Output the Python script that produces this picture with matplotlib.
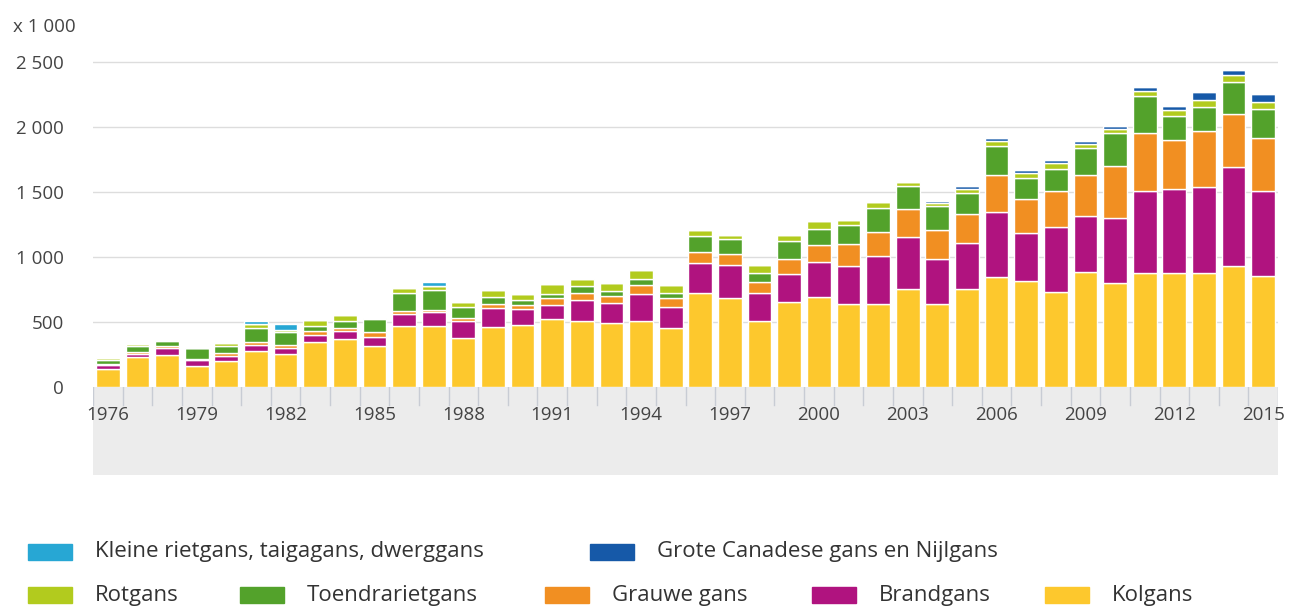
import numpy as np
import matplotlib
matplotlib.use("Agg")
import matplotlib.pyplot as plt
from matplotlib.patches import Rectangle

plt.rcParams['font.family'] = ['Open Sans', 'DejaVu Sans']

years = list(range(1976, 2016))

# numbers x 1000, stacked bottom to top
kolgans = [135, 228, 246, 161, 202, 276, 251, 343, 367, 315,
           470, 469, 374, 464, 479, 520, 510, 494, 510, 451,
           725, 682, 508, 656, 694, 638, 638, 754, 638, 754,
           844, 815, 728, 887, 802, 874, 874, 874, 930, 856]
brandgans = [35, 28, 55, 50, 38, 50, 50, 60, 63, 72,
             92, 105, 130, 140, 120, 112, 160, 150, 205, 165,
             226, 256, 212, 213, 270, 295, 370, 400, 343, 355,
             500, 372, 505, 431, 500, 633, 646, 662, 764, 651]
grauwe = [10, 12, 15, 8, 20, 20, 25, 25, 25, 35,
          25, 20, 25, 35, 30, 55, 55, 55, 70, 70,
          85, 85, 85, 115, 125, 170, 185, 215, 228, 220,
          290, 261, 277, 312, 398, 449, 379, 433, 403, 405]
toendra = [25, 50, 35, 78, 55, 110, 95, 40, 55, 100,
           135, 155, 85, 50, 40, 30, 50, 42, 42, 40,
           125, 115, 72, 140, 130, 145, 185, 180, 180, 160,
           220, 157, 166, 205, 251, 284, 185, 187, 246, 226]
rotgans = [15, 10, 10, 5, 25, 25, 20, 45, 45, 5,
           40, 25, 40, 55, 45, 75, 55, 60, 70, 60,
           45, 35, 58, 45, 55, 40, 45, 30, 30, 35,
           40, 40, 45, 35, 35, 35, 45, 55, 55, 55]
grote = [0, 0, 0, 0, 0, 0, 0, 0, 0, 0,
         0, 0, 0, 0, 0, 0, 0, 0, 0, 0,
         0, 0, 0, 0, 0, 0, 0, 0, 15, 20,
         25, 25, 25, 20, 20, 30, 35, 55, 40, 60]
kleine = [0, 0, 0, 0, 0, 30, 45, 0, 0, 0,
          0, 35, 0, 0, 0, 0, 0, 0, 0, 0,
          0, 0, 0, 0, 0, 0, 0, 0, 0, 0,
          0, 0, 0, 0, 0, 0, 0, 0, 0, 0]

series = [
    ('Kolgans', kolgans, '#fdc82d'),
    ('Brandgans', brandgans, '#b0137f'),
    ('Grauwe gans', grauwe, '#f18f22'),
    ('Toendrarietgans', toendra, '#53a22b'),
    ('Rotgans', rotgans, '#b2cb1e'),
    ('Grote Canadese gans en Nijlgans', grote, '#1659a8'),
    ('Kleine rietgans, taigagans, dwerggans', kleine, '#27a7d4'),
]

W, H = 1289, 607
fig = plt.figure(figsize=(W / 100, H / 100), dpi=100)

def fx(px):
    return px / W

def fy(py):
    return 1 - py / H

# main plot area
ax = fig.add_axes([fx(93), fy(387), fx(1278) - fx(93), fy(49) - fy(387)])
x = np.arange(len(years))
bottom = np.zeros(len(years))
for name, vals, col in series:
    v = np.array(vals, dtype=float)
    ax.bar(x, v, width=0.8, bottom=bottom, color=col, edgecolor='white', linewidth=1.0)
    bottom += v

ax.set_xlim(-0.5, len(years) - 0.5)
ax.set_ylim(0, 2600)
yt = [0, 500, 1000, 1500, 2000, 2500]
ax.set_yticks(yt)
ax.set_yticklabels(['{:,}'.format(t).replace(',', ' ') for t in yt], fontsize=13.5, color='#444444')
ax.tick_params(axis='y', length=0, pad=21)
ax.set_xticks([])
for t in yt[1:]:
    ax.axhline(t, color='#dddddd', lw=1, zorder=0)
for s in ax.spines.values():
    s.set_visible(False)

# grey category band below the bars
band = fig.add_axes([fx(93), fy(475), fx(1278) - fx(93), fy(387) - fy(475)])
band.set_facecolor('#ececec')
band.set_xlim(-0.5, len(years) - 0.5)
band.set_ylim(0, 88)
for b in np.arange(-0.5, len(years), 1.0):
    band.plot([b, b], [88, 70], color='#c8ccd4', lw=1)
for i, yr in enumerate(years):
    if (yr - 1976) % 3 == 0:
        band.text(i, 60, str(yr), ha='center', va='center', fontsize=13.5, color='#444444')
band.set_xticks([])
band.set_yticks([])
for s in band.spines.values():
    s.set_visible(False)

fig.text(fx(13), fy(27), 'x 1 000', ha='left', va='center', fontsize=13.5, color='#444444')

# legend, drawn in two rows
legend_rows = [
    [(6, 28), (5, 590)],
    [(4, 28), (3, 240), (2, 545), (1, 812), (0, 1045)],
]
row_y = [552, 595]
for r, row in enumerate(legend_rows):
    for idx, px in row:
        name, _, col = series[idx]
        fig.add_artist(Rectangle((fx(px), fy(row_y[r] + 8)), fx(44), fy(0) - fy(16),
                                 transform=fig.transFigure, color=col))
        fig.text(fx(px + 67), fy(row_y[r]), name, ha='left', va='center',
                 fontsize=16, color='#333333')

fig.savefig('out.png', dpi=100, facecolor='white')
